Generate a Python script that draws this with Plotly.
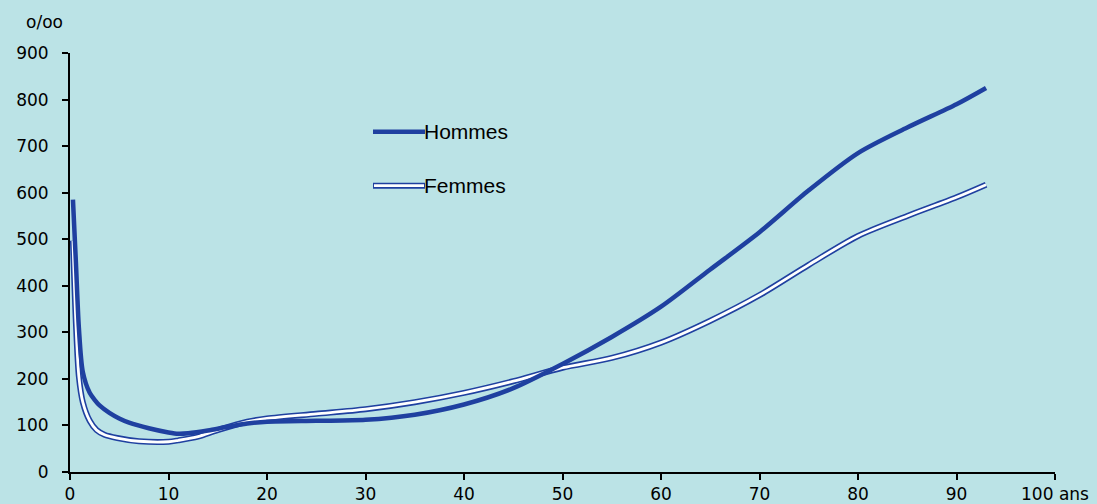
import plotly.graph_objects as go

ages_h = [0.3, 0.6, 0.9, 1.3, 2, 2.5, 3, 4, 5, 6, 8, 10, 11, 12, 14, 16, 18, 20, 25, 30, 35, 40, 45, 50, 55, 60, 65, 70, 75, 80, 85, 90, 93]
hommes = [585, 450, 310, 215, 170, 155, 143, 127, 115, 106, 94, 85, 82, 83, 89, 97, 104, 108, 110, 112, 123, 145, 180, 232, 290, 355, 435, 515, 605, 685, 740, 790, 825]

ages_f = [0.3, 0.6, 0.9, 1.3, 2, 2.7, 3.5, 4.8, 7, 10, 11, 13, 15, 18, 20, 25, 30, 35, 40, 45, 50, 55, 60, 65, 70, 75, 80, 85, 90, 93]
femmes = [497, 320, 205, 150, 110, 90, 80, 73, 66, 65, 68, 76, 90, 108, 115, 125, 135, 150, 170, 195, 224, 245, 278, 325, 380, 445, 507, 550, 590, 617]

x_ticks = [0, 10, 20, 30, 40, 50, 60, 70, 80, 90, 100]
x_labels = ["0", "10", "20", "30", "40", "50", "60", "70", "80", "90", "100 ans"]
y_ticks = [0, 100, 200, 300, 400, 500, 600, 700, 800, 900]

BLUE = "#1f40a0"
BG = "#bbe3e6"

fig = go.Figure()
fig.add_trace(go.Scatter(x=ages_f, y=femmes, mode="lines", line=dict(color=BLUE, width=6, shape="spline", smoothing=0.8), showlegend=False, hoverinfo="skip"))
fig.add_trace(go.Scatter(x=ages_f, y=femmes, mode="lines", name="Femmes", line=dict(color="white", width=2.8, shape="spline", smoothing=0.8), showlegend=False))
fig.add_trace(go.Scatter(x=ages_h, y=hommes, mode="lines", name="Hommes", line=dict(color=BLUE, width=4.5, shape="spline", smoothing=0.8), showlegend=False))

tickfont = dict(family="DejaVu Sans, Verdana, sans-serif", size=17, color="black")

fig.update_layout(
    width=1097, height=504,
    paper_bgcolor=BG, plot_bgcolor=BG,
    margin=dict(l=70, r=42, t=53, b=32, autoexpand=False),
    xaxis=dict(range=[0, 100], tickvals=x_ticks, ticktext=x_labels, ticks="outside", ticklen=6, tickwidth=2, tickcolor="black",
               showline=True, linecolor="black", linewidth=2, showgrid=False, zeroline=False, tickfont=tickfont,
               ticklabelstandoff=0),
    yaxis=dict(range=[0, 900], tickvals=y_ticks, ticks="outside", ticklen=6, tickwidth=2, tickcolor="black",
               showline=True, linecolor="black", linewidth=2, showgrid=False, zeroline=False, tickfont=tickfont,
               ticklabelstandoff=10),
    font=dict(family="DejaVu Sans, sans-serif", color="black"),
)

fig.add_annotation(text="o/oo", xref="paper", yref="paper", x=(24 - 70) / 985, y=(472 - 21) / 420,
                   xanchor="left", yanchor="middle", showarrow=False, font=tickfont)

# legend drawn manually
legfont = dict(family="Liberation Sans, Arial, sans-serif", size=21, color="black")
def px2paper(px, py):
    return (px - 70) / 985, (472 - py) / 420

x0, y0 = px2paper(373, 131)
x1, _ = px2paper(425, 131)
fig.add_shape(type="line", xref="paper", yref="paper", x0=x0, x1=x1, y0=y0, y1=y0, line=dict(color=BLUE, width=4.5))
fig.add_annotation(text="Hommes", xref="paper", yref="paper", x=x1 - 0.003, y=y0, xanchor="left", yanchor="middle", showarrow=False, font=legfont)

x0, y0 = px2paper(373, 185)
fig.add_shape(type="line", xref="paper", yref="paper", x0=x0, x1=x1, y0=y0, y1=y0, line=dict(color=BLUE, width=6))
fig.add_shape(type="line", xref="paper", yref="paper", x0=x0 + 0.001, x1=x1 - 0.001, y0=y0, y1=y0, line=dict(color="white", width=2.8))
fig.add_annotation(text="Femmes", xref="paper", yref="paper", x=x1 - 0.003, y=y0, xanchor="left", yanchor="middle", showarrow=False, font=legfont)

fig.write_html("out.html", config={"displayModeBar": False})
with open("out.html", "r", encoding="utf-8") as f:
    html = f.read()
html = html.replace("<body>", '<body style="margin:0;padding:0;">', 1)
with open("out.html", "w", encoding="utf-8") as f:
    f.write(html)
